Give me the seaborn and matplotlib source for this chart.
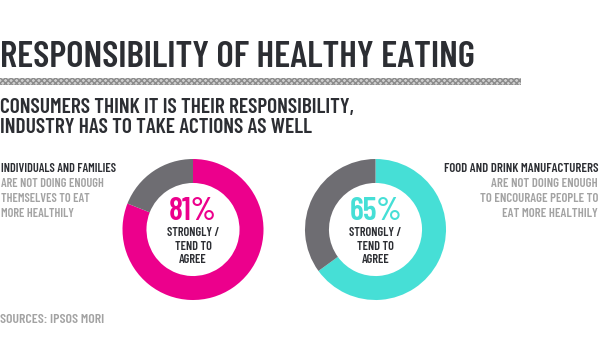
import matplotlib
matplotlib.use("Agg")
import matplotlib.pyplot as plt
from matplotlib.patches import Rectangle
import seaborn as sns

# --- data -------------------------------------------------------------
title = "RESPONSIBILITY OF HEALTHY EATING"
subtitle = ["CONSUMERS THINK IT IS THEIR RESPONSIBILITY,",
            "INDUSTRY HAS TO TAKE ACTIONS AS WELL"]
groups = ["INDIVIDUALS AND FAMILIES", "FOOD AND DRINK MANUFACTURERS"]
statements = [["ARE NOT DOING ENOUGH", "THEMSELVES TO EAT", "MORE HEALTHILY"],
              ["ARE NOT DOING ENOUGH", "TO ENCOURAGE PEOPLE TO", "EAT MORE HEALTHILY"]]
agree_pct = [81, 65]
agree_label = ["STRONGLY /", "TEND TO", "AGREE"]
source = "SOURCES: IPSOS MORI"

# --- style ------------------------------------------------------------
sns.set_theme(style="white")
plt.rcParams["font.family"] = ["Barlow Condensed", "DejaVu Sans"]
plt.rcParams["font.weight"] = 600

W, H = 600, 347
DARK = "#2c2e33"
LIGHT = "#a3a3a3"
REST = "#6e6d72"
accents = sns.color_palette(["#ec008c", "#46dfd6"])

fig = plt.figure(figsize=(W / 100, H / 100), dpi=100)
fig.patch.set_facecolor("white")


def put(x, y, s, size, color, ha="left"):
    """Place text by pixel position (y measured from the top, baseline)."""
    fig.text(x / W, 1 - y / H, s, fontsize=size, color=color,
             ha=ha, va="baseline", fontweight=600)


# header
put(0, 67, title, 26.7, DARK)
band = Rectangle((0, 1 - 85 / H), 521 / W, 7 / H, transform=fig.transFigure,
                 facecolor="#d0d0d0", edgecolor="#8c8c8c", hatch="xxxxxx",
                 linewidth=0)
fig.patches.append(band)
for i, line in enumerate(subtitle):
    put(0, 113 + 20 * i, line, 15.4, DARK)

# side captions
put(1, 172, groups[0], 8.9, DARK)
for i, line in enumerate(statements[0]):
    put(1, 187 + 15 * i, line, 8.9, LIGHT)
put(598, 172, groups[1], 9.2, DARK, ha="right")
for i, line in enumerate(statements[1]):
    put(598, 187 + 15 * i, line, 9.2, LIGHT, ha="right")

# donuts
centers = [(193, 229.5), (375.5, 229.5)]
radius = 70.5
for (cx, cy), pct, col in zip(centers, agree_pct, accents):
    ax = fig.add_axes([(cx - radius) / W, (H - cy - radius) / H,
                       2 * radius / W, 2 * radius / H])
    ax.pie([pct, 100 - pct], colors=[col, REST], startangle=90,
           counterclock=False, radius=1,
           wedgeprops=dict(width=0.34, edgecolor="none", linewidth=0))
    ax.set_xlim(-1, 1)
    ax.set_ylim(-1, 1)
    ax.set_aspect("equal")
    ax.axis("off")
    put(cx, 219.5, f"{pct}%", 23.2, col, ha="center")
    for i, line in enumerate(agree_label):
        put(cx, 236 + 13.5 * i, line, 8.9, DARK, ha="center")

put(0, 323, source, 9.9, LIGHT)

fig.savefig("out.png", dpi=100, facecolor="white")
